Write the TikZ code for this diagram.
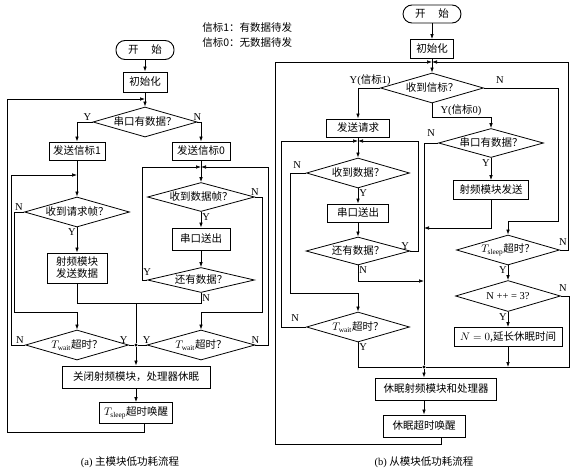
\documentclass[tikz,border=0pt]{standalone}
\usepackage{fontspec}
\setmainfont{Liberation Serif}
\newfontfamily\cjk{Noto Sans CJK SC}
\usepackage{tikz}
\usetikzlibrary{shapes.geometric,arrows.meta,positioning,calc}

\tikzset{
  proc/.style={draw,line width=0.9pt,inner sep=1pt,minimum height=20pt},
  term/.style={draw,line width=0.9pt,rounded corners=9pt,minimum width=58pt,minimum height=19pt,inner sep=1pt},
  dec/.style={draw,diamond,line width=0.8pt,aspect=3.5,inner sep=0pt,minimum width=104pt,minimum height=30pt},
  lab/.style={font=\rmfamily\fontsize{10.5}{12}\selectfont,inner sep=1pt},
  jdot/.style={circle,fill,inner sep=0pt,minimum size=3.4pt},
}

\begin{document}
\begin{tikzpicture}[x=1pt,y=-1pt,>={Latex[length=5pt,width=3.6pt]},line width=0.7pt,
    font=\cjk\fontsize{10.5}{12}\selectfont]
    \useasboundingbox (0,0) rectangle (572,471);

    % legend
    \node[anchor=west,inner sep=0pt] (leg1) at (202,28) {信标1：有数据待发};
    \node[anchor=west,inner sep=0pt] (leg0) at (202,43) {信标0：无数据待发};

    % (a) master module
    \node[term] (startA) at (145,50) {开\hspace{1.2em}始};
    \node[proc,minimum width=44pt] (initA) at (145,82) {初始化};
    \node[dec] (hasA) at (145,122) {串口有数据？};
    \node[proc,minimum width=56pt,minimum height=18pt] (bcn1A) at (77,151) {发送信标1};
    \node[proc,minimum width=58pt,minimum height=18pt] (bcn0A) at (201,151) {发送信标0};
    \node[dec,minimum width=105pt] (reqA) at (77,212) {收到请求帧？};
    \node[proc,minimum width=60pt,minimum height=30pt,align=center] (rfA) at (77,268) {射频模块\\发送数据};
    \node[dec,minimum width=107pt,minimum height=29pt] (frmA) at (201,197) {收到数据帧？};
    \node[proc,minimum width=58pt,minimum height=22pt] (uartA) at (201,239) {串口送出};
    \node[dec,minimum width=107pt,minimum height=25pt] (moreA) at (201,280) {还有数据？};
    \node[dec,minimum width=103pt] (waitA1) at (77,345) {$T_{\mathrm{wait}}$超时？};
    \node[dec,minimum width=108pt] (waitA2) at (201,345) {$T_{\mathrm{wait}}$超时？};
    \node[proc,minimum width=148pt,minimum height=22pt] (offA) at (136,377) {关闭射频模块，处理器休眠};
    \node[proc,minimum width=73pt,minimum height=21pt] (wakeA) at (136,413) {$T_{\mathrm{sleep}}$超时唤醒};
    \node (capA) at (130,462) {{\rmfamily(a)} 主模块低功耗流程};

    \coordinate (mA) at (145,99);
    \coordinate (mA1) at (77,175);
    \coordinate (mA2) at (201,167);
    \coordinate (nA1) at (77,312);
    \coordinate (nA2) at (201,312);
    \coordinate (jA) at (136,303);
    \coordinate (loopA) at (7,432);
    \node[jdot] (dotA) at (136,345) {};

    \draw[->] (startA) -- (initA);
    \draw (initA) -- (mA);
    \draw[->] (mA) -- (hasA);
    \draw[->] (hasA.west) -| (bcn1A);
    \draw[->] (hasA.east) -| (bcn0A);
    \draw (bcn1A) -- (mA1);
    \draw[->] (mA1) -- (reqA);
    \draw[->] (reqA) -- (rfA);
    \draw[->] (reqA.west) -- ++(-10,0) |- (nA1) -- (waitA1);
    \draw (bcn0A) -- (mA2);
    \draw[->] (mA2) -- (frmA);
    \draw[->] (frmA) -- (uartA);
    \draw[->] (uartA) -- (moreA);
    \draw[->] (moreA.west) -- ++(-5,0) |- (mA2);
    \draw[->] (frmA.east) -- ++(7,0) |- (nA2) -- (waitA2);
    \draw (rfA) |- (jA);
    \draw (moreA) |- (jA);
    \draw (jA) -- (dotA);
    \draw (waitA1) -- (dotA);
    \draw (waitA2) -- (dotA);
    \draw[->] (dotA) -- (offA);
    \draw[->] (waitA1.west) -- ++(-14,0) |- (mA1);
    \draw[->] (waitA2.east) -- ++(13,0) |- (mA2);
    \draw[->] (offA) -- (wakeA);
    \draw[->] ($(wakeA.south)+(8,0)$) |- (loopA) |- (mA);

    \node[lab,above left] at (hasA.west) {Y};
    \node[lab,above] at (hasA.east) {N};
    \node[lab,above left] at (reqA.west) {N};
    \node[lab,below left] at (reqA.south) {Y};
    \node[lab,above] at (frmA.east) {N};
    \node[lab,below right] at (frmA.south) {Y};
    \node[lab,above=3pt] at (moreA.west) {Y};
    \node[lab,below right] at (moreA.south) {N};
    \node[lab,above left] at (waitA1.west) {N};
    \node[lab,above left] at (waitA1.east) {Y};
    \node[lab,above] at (waitA2.west) {Y};
    \node[lab,above] at (waitA2.east) {N};

    % (b) slave module
    \node[term,minimum height=18pt] (startB) at (432,14) {开\hspace{1.2em}始};
    \node[proc,minimum width=43pt,minimum height=19pt] (initB) at (432,49) {初始化};
    \node[dec,minimum width=103pt] (bcnB) at (432,88) {收到信标？};
    \node[proc,minimum width=63pt,minimum height=18pt] (reqB) at (358,128) {发送请求};
    \node[dec,minimum width=103pt] (datB) at (358,173) {收到数据？};
    \node[proc,minimum width=61pt,minimum height=18pt] (uartB) at (358,213) {串口送出};
    \node[dec,minimum width=104pt,minimum height=28pt] (moreB) at (358,251) {还有数据？};
    \node[dec,minimum width=103pt] (waitB) at (358,327) {$T_{\mathrm{wait}}$超时？};
    \node[dec,minimum width=105pt,minimum height=29pt] (serB) at (491,143) {串口有数据？};
    \node[proc,minimum width=75pt,minimum height=19pt] (rfB) at (491,190) {射频模块发送};
    \node[dec,minimum width=103pt] (slpB) at (508,250) {$T_{\mathrm{sleep}}$超时？};
    \node[dec,minimum width=105pt,minimum height=31pt] (cntB) at (508,296) {\rmfamily N ++ = 3?};
    \node[proc,minimum width=108pt,minimum height=19pt] (rstB) at (508,337) {$N=0$,延长休眠时间};
    \node[proc,minimum width=121pt,minimum height=22pt] (hibB) at (436,389) {休眠射频模块和处理器};
    \node[proc,minimum width=82pt,minimum height=22pt] (wakeB) at (424,426) {休眠超时唤醒};
    \node (capB) at (424,462) {{\rmfamily(b)} 从模块低功耗流程};

    \coordinate (mB) at (432,62);
    \coordinate (mB1) at (358,141);
    \coordinate (nB1) at (358,293);
    \coordinate (nB2) at (558,221);
    \coordinate (jB1) at (424,228);
    \coordinate (jB2) at (424,281);
    \coordinate (loopB) at (275,444);
    \node[jdot] (dotB) at (424,367) {};

    \draw[->] (startB) -- (initB);
    \draw (initB) -- (mB);
    \draw[->] (mB) -- (bcnB);
    \draw[->] (bcnB.west) -| (reqB);
    \draw (reqB) -- (mB1);
    \draw[->] (mB1) -- (datB);
    \draw[->] (datB) -- (uartB);
    \draw[->] (uartB) -- (moreB);
    \draw[->] (moreB.east) -- ++(8,0) |- (mB1);
    \draw[->] (moreB) |- (jB2);
    \draw[->] (datB.west) -- ++(-16,0) |- (nB1) -- (waitB);
    \draw[->] (waitB.west) -- ++(-25,0) |- (mB1);
    \draw (waitB) |- (dotB);
    \draw[->] (bcnB.south) -- ++(0,14) -| (serB);
    \draw (serB.west) -| (dotB);
    \draw[->] (serB) -- (rfB);
    \draw[->] (rfB) |- (jB1);
    \draw[->] (bcnB.east) -| (nB2) -| (slpB);
    \draw[->] (slpB) -- (cntB);
    \draw[->] (cntB) -- (rstB);
    \draw[->] (rstB) -- (rstB |- dotB);
    \draw[->] (slpB.east) -- ++(8,0) |- (mB);
    \draw (cntB.east) -- ++(8,0) |- (dotB);
    \draw[->] (dotB) -- (dotB |- hibB.north);
    \draw[->] (dotB |- hibB.south) -- (wakeB);
    \draw[->] ($(wakeB.south)+(17,0)$) |- (loopB) |- (mB);

    \node[lab] at ($(bcnB.west)+(-10,-8)$) {Y({\cjk 信标}1)};
    \node[lab] at ($(bcnB.east)+(16,-8)$) {N};
    \node[lab] at ($(bcnB.south)+(29,7)$) {Y({\cjk 信标}0)};
    \node[lab] at ($(serB.west)+(-7,-10)$) {N};
    \node[lab,below left] at (serB.south) {Y};
    \node[lab] at ($(datB.west)+(-9,-8)$) {N};
    \node[lab,below right] at (datB.south) {Y};
    \node[lab,above left] at (moreB.east) {Y};
    \node[lab,below right] at (moreB.south) {N};
    \node[lab] at ($(waitB.west)+(-11,-9)$) {N};
    \node[lab,below right] at (waitB.south) {Y};
    \node[lab] at ($(slpB.east)+(3,-8)$) {N};
    \node[lab,below left] at (slpB.south) {Y};
    \node[lab] at ($(cntB.east)+(2,-8)$) {N};
    \node[lab,below left] at (cntB.south) {Y};
\end{tikzpicture}
\end{document}
